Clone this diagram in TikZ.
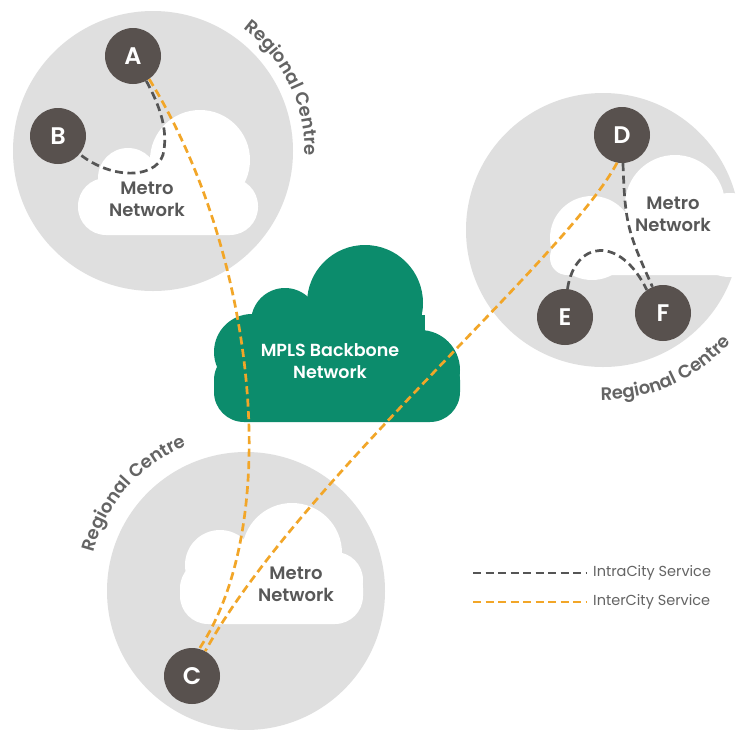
\documentclass[tikz,border=0pt]{standalone}
\usepackage{fontspec}
\usetikzlibrary{decorations.text}
\newfontfamily\psemi{Poppins SemiBold}
\newfontfamily\preg{Poppins}
\definecolor{ringgrey}{RGB}{223,223,223}
\definecolor{nodegrey}{RGB}{88,81,78}
\definecolor{mplsgreen}{RGB}{12,140,108}
\definecolor{txtgrey}{RGB}{88,88,88}
\definecolor{labgrey}{RGB}{100,100,100}
\definecolor{dashgrey}{RGB}{85,85,85}
\definecolor{dashorange}{RGB}{242,166,40}
\begin{document}
\begin{tikzpicture}[x=1pt,y=1pt,
  region/.style={fill=ringgrey},
  cloudw/.style={fill=white},
  cloudg/.style={fill=mplsgreen},
  nd/.style={circle, fill=nodegrey, minimum size=56pt, inner sep=0pt, text=white,
    font=\psemi\fontsize{24}{24}\selectfont},
  metro/.style={align=center, text=txtgrey, font=\psemi\fontsize{18}{22}\selectfont},
  mpls/.style={align=center, text=white, font=\psemi\fontsize{17.5}{22}\selectfont},
  intra/.style={draw=dashgrey, line width=2.7pt, dash pattern=on 8pt off 4.5pt},
  inter/.style={draw=dashorange, line width=2.7pt, dash pattern=on 8pt off 4.5pt},
  legtext/.style={anchor=west, text=labgrey, inner sep=0pt, font=\preg\fontsize{14.5}{16}\selectfont},
  regtext/.style={decorate, decoration={text along path, text align=center,
    text color=labgrey, text={|\psemi\fontsize{18}{18}\selectfont|Regional Centre}}}
]
\useasboundingbox (0,-729) rectangle (737,0);
\fill[white] (0,-729) rectangle (737,0);

% regional circles
\fill[region] (153,-151) circle[radius=140];
\fill[region] (603,-230) circle[radius=137];
\fill[region] (246,-591) circle[radius=139];

% metro cloud (top-left)
\fill[cloudw] (200,-160) circle[radius=50];
\fill[cloudw] (128,-178) circle[radius=30];
\fill[cloudw, rounded corners=28] (78,-178) rectangle (258,-235);
% metro cloud (right)
\fill[cloudw] (675,-205) circle[radius=50];
\fill[cloudw] (592,-238) circle[radius=42];
\fill[cloudw] (730,-235) circle[radius=42];
\fill[cloudw] (592,-215) rectangle (680,-250);
\fill[cloudw, rounded corners=17] (550,-240) rectangle (745,-275);
% metro cloud (bottom)
\fill[cloudw] (292,-553) circle[radius=50];
\fill[cloudw] (220,-565) circle[radius=35];
\fill[cloudw] (335,-580) circle[radius=28];
\fill[cloudw, rounded corners=28] (180,-560) rectangle (363,-624);

% MPLS backbone cloud
\fill[cloudg] (365,-303) circle[radius=58];
\fill[cloudg] (285,-322) circle[radius=34];
\fill[cloudg] (252,-352) circle[radius=38];
\fill[cloudg] (420,-370) circle[radius=40];
\fill[cloudg] (270,-315) rectangle (425,-370);
\fill[cloudg, rounded corners=30] (214,-350) rectangle (460,-422);

% texts in clouds
\node[metro] (m1) at (147,-199) {Metro\\Network};
\node[metro] (m2) at (673,-214) {Metro\\Network};
\node[metro] (m3) at (296,-584) {Metro\\Network};
\node[mpls] (mp) at (330,-361) {MPLS Backbone\\Network};

% region labels
\path[regtext] (153,-151) ++(76:152) arc[start angle=76, end angle=-24, radius=152];
\path[regtext] (246,-591) ++(189:157) arc[start angle=189, end angle=89, radius=157];
\path[regtext] (603,-230) ++(-116:170) arc[start angle=-116, end angle=-16, radius=170];

% nodes
\node[nd] (A) at (133,-56) {A};
\node[nd] (B) at (58,-136) {B};
\node[nd] (C) at (192,-676) {C};
\node[nd] (D) at (622,-135) {D};
\node[nd] (E) at (565,-317) {E};
\node[nd] (F) at (663,-313) {F};

% connectors
\draw[intra] (A.-62) .. controls (165,-115) and (166,-135) .. (164,-150)
  .. controls (161,-178) and (115,-182) .. (B.-40);
\draw[intra] (D.-88) .. controls (625,-225) and (628,-232) .. (F.112);
\draw[intra] (E.85) .. controls (575,-240) and (620,-235) .. (F.125);
\draw[inter] (A.-55) .. controls (255,-250) and (285,-520) .. (C.75);
\draw[inter] (D.-100) .. controls (565,-260) and (300,-480) .. (C.62);

% legend
\coordinate (ia) at (473,-573);
\coordinate (ib) at (587,-573);
\coordinate (oa) at (473,-602);
\coordinate (ob) at (587,-602);
\draw[intra, line width=2.2pt] (ia) -- (ib);
\draw[inter, line width=2.2pt] (oa) -- (ob);
\node[legtext] (lt1) at (593,-573) {IntraCity Service};
\node[legtext] (lt2) at (593,-602) {InterCity Service};
\end{tikzpicture}
\end{document}
